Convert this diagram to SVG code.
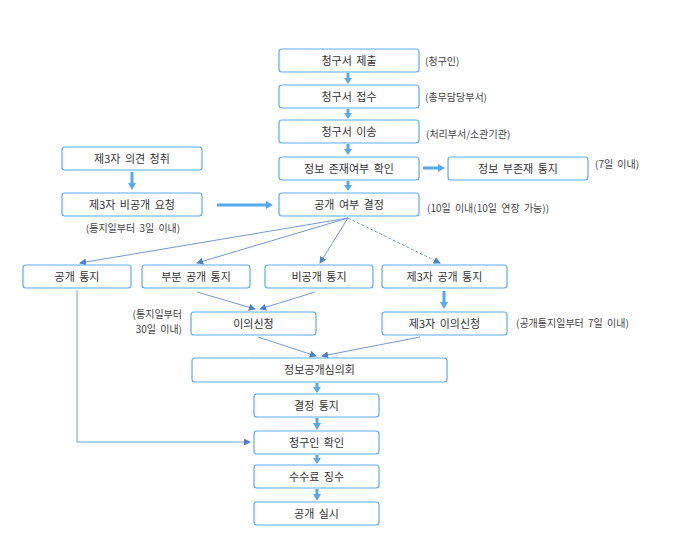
<svg xmlns="http://www.w3.org/2000/svg" width="679" height="560" viewBox="0 0 679 560">
<defs>
<style>
.box{fill:#fff;stroke:#5aacf0;stroke-width:1.2}
.t{font-family:"Noto Sans CJK KR","Noto Sans",sans-serif;font-size:11px;fill:#333;text-anchor:middle;word-spacing:2px}
.n{font-family:"Noto Sans CJK KR","Noto Sans",sans-serif;font-size:10px;fill:#444;word-spacing:2px}
.thick{stroke:#52aaf0;stroke-width:3;fill:none}
.head{fill:#52aaf0}
.thin{stroke:#6f9ad8;stroke-width:1;fill:none}
.dash{stroke:#6f9ad8;stroke-width:1;fill:none;stroke-dasharray:3 2}
</style>
<marker id="ah" viewBox="0 0 8 8" refX="7" refY="4" markerWidth="7" markerHeight="7" markerUnits="userSpaceOnUse" orient="auto">
<path d="M0,0 L8,4 L0,8 z" fill="#4a80cc"/>
</marker>
</defs>
<rect width="679" height="560" fill="#fff"/>

<g id="connectors">
<line class="thick" x1="348" y1="73" x2="348" y2="79"/><polygon class="head" points="344,78 352,78 348,84"/>
<line class="thick" x1="348" y1="109" x2="348" y2="114"/><polygon class="head" points="344,113 352,113 348,119"/>
<line class="thick" x1="348" y1="144" x2="348" y2="150"/><polygon class="head" points="344,149 352,149 348,155"/>
<line class="thick" x1="348" y1="181" x2="348" y2="186"/><polygon class="head" points="344,185 352,185 348,191"/>
<line class="thick" x1="423" y1="168" x2="439" y2="168"/><polygon class="head" points="438,164 438,172 445,168"/>
<line class="thick" x1="132" y1="172" x2="132" y2="184"/><polygon class="head" points="128,183 136,183 132,190"/>
<line class="thick" x1="217" y1="205" x2="267" y2="205"/><polygon class="head" points="266,201 266,209 273,205"/>
<line class="thick" x1="444" y1="291" x2="444" y2="303"/><polygon class="head" points="440,302 448,302 444,309"/>
<line class="thick" x1="317" y1="383" x2="317" y2="388"/><polygon class="head" points="313,387 321,387 317,393"/>
<line class="thick" x1="317" y1="418" x2="317" y2="424"/><polygon class="head" points="313,423 321,423 317,430"/>
<line class="thick" x1="317" y1="455" x2="317" y2="459"/><polygon class="head" points="313,458 321,458 317,464"/>
<line class="thick" x1="317" y1="489" x2="317" y2="495"/><polygon class="head" points="313,494 321,494 317,501"/>
<line class="thin" x1="348" y1="218" x2="80" y2="263" marker-end="url(#ah)"/>
<line class="thin" x1="348" y1="218" x2="197" y2="263" marker-end="url(#ah)"/>
<line class="thin" x1="348" y1="218" x2="320" y2="263" marker-end="url(#ah)"/>
<line class="dash" x1="348" y1="218" x2="440" y2="263" marker-end="url(#ah)"/>
<line class="thin" x1="197" y1="292" x2="255" y2="309" marker-end="url(#ah)"/>
<line class="thin" x1="315" y1="292" x2="260" y2="309" marker-end="url(#ah)"/>
<line x1="250" y1="355" x2="447" y2="355" stroke="#eaeff4" stroke-width="1"/>
<line class="thin" x1="258" y1="337" x2="316" y2="356" marker-end="url(#ah)"/>
<line class="thin" x1="420" y1="337" x2="322" y2="356" marker-end="url(#ah)"/>
<polyline class="thin" points="77,290 77,442 250,442" marker-end="url(#ah)"/>
</g>

<g id="n1"><rect class="box" x="279" y="49" width="140" height="23" rx="3"/><text class="t" x="349" y="64.5">청구서 제출</text></g>
<g id="n2"><rect class="box" x="279" y="85" width="140" height="23" rx="3"/><text class="t" x="349" y="100.5">청구서 접수</text></g>
<g id="n3"><rect class="box" x="279" y="120" width="140" height="23" rx="3"/><text class="t" x="349" y="135.5">청구서 이송</text></g>
<g id="n4"><rect class="box" x="279" y="157" width="140" height="23" rx="3"/><text class="t" x="349" y="172.5">정보 존재여부 확인</text></g>
<g id="n5"><rect class="box" x="448" y="157" width="140" height="23" rx="3"/><text class="t" x="518" y="172.5">정보 부존재 통지</text></g>
<g id="n6"><rect class="box" x="279" y="193" width="140" height="23" rx="3"/><text class="t" x="349" y="208.5">공개 여부 결정</text></g>
<g id="n7"><rect class="box" x="62" y="147" width="140" height="23" rx="3"/><text class="t" x="132" y="162.5">제3자 의견 청취</text></g>
<g id="n8"><rect class="box" x="62" y="193" width="140" height="23" rx="3"/><text class="t" x="132" y="208.5">제3자 비공개 요청</text></g>
<g id="n9"><rect class="box" x="23" y="265" width="108" height="23" rx="3"/><text class="t" x="77" y="280.5">공개 통지</text></g>
<g id="n10"><rect class="box" x="142" y="265" width="108" height="23" rx="3"/><text class="t" x="196" y="280.5">부분 공개 통지</text></g>
<g id="n11"><rect class="box" x="265" y="265" width="108" height="23" rx="3"/><text class="t" x="319" y="280.5">비공개 통지</text></g>
<g id="n12"><rect class="box" x="382" y="265" width="125" height="23" rx="3"/><text class="t" x="444.5" y="280.5">제3자 공개 통지</text></g>
<g id="n13"><rect class="box" x="191" y="312" width="125" height="23" rx="3"/><text class="t" x="253.5" y="327.5">이의신청</text></g>
<g id="n14"><rect class="box" x="382" y="312" width="125" height="23" rx="3"/><text class="t" x="444.5" y="327.5">제3자 이의신청</text></g>
<g id="n15"><rect class="box" x="192" y="358" width="255" height="24" rx="3"/><text class="t" x="319.5" y="374">정보공개심의회</text></g>
<g id="n16"><rect class="box" x="254" y="394" width="125" height="23" rx="3"/><text class="t" x="316.5" y="409.5">결정 통지</text></g>
<g id="n17"><rect class="box" x="254" y="431" width="125" height="23" rx="3"/><text class="t" x="316.5" y="446.5">청구인 확인</text></g>
<g id="n18"><rect class="box" x="254" y="465" width="125" height="23" rx="3"/><text class="t" x="316.5" y="480.5">수수료 징수</text></g>
<g id="n19"><rect class="box" x="254" y="502" width="125" height="23" rx="3"/><text class="t" x="316.5" y="517.5">공개 실시</text></g>

<g id="notes">
<text class="n" x="425" y="64.5">(청구인)</text>
<text class="n" x="425" y="101">(총무담당부서)</text>
<text class="n" x="426" y="138">(처리부서/소관기관)</text>
<text class="n" x="595" y="168">(7일 이내)</text>
<text class="n" x="427" y="212">(10일 이내(10일 연장 가능))</text>
<text class="n" x="133" y="232" text-anchor="middle">(통지일부터 3일 이내)</text>
<text class="n" x="182" y="318" text-anchor="end">(통지일부터</text>
<text class="n" x="182" y="333" text-anchor="end">30일 이내)</text>
<text class="n" x="516" y="327">(공개통지일부터 7일 이내)</text>
</g>
</svg>
